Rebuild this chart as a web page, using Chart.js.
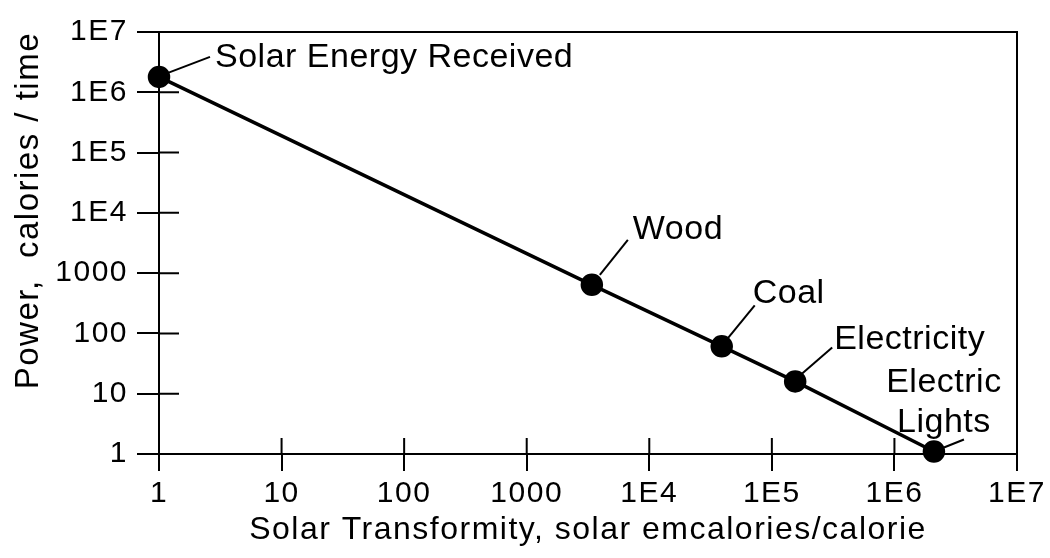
<!DOCTYPE html>
<html>
<head>
<meta charset="utf-8">
<script src="https://cdn.jsdelivr.net/npm/chart.js@4"></script>
<style>
  html, body { margin: 0; padding: 0; background: #fff; }
  #wrap { width: 1050px; height: 558px; }
</style>
</head>
<body>
<div id="wrap"><canvas id="chart" width="1050" height="558"></canvas></div>
<script>
const sources = ['Solar Energy Received', 'Wood', 'Coal', 'Electricity', 'Electric\nLights'];
const transformity = [1, 3400, 39000, 155000, 2100000];
const power = [1800000, 640, 61, 16, 1.1];
const tickValues = [1, 10, 100, 1000, 1e4, 1e5, 1e6, 1e7];
const tickLabels = ['1', '10', '100', '1000', '1E4', '1E5', '1E6', '1E7'];

// where each name sits next to its dot: leader start, leader end, text anchor, text align
const labelPlacement = [
  { from: [9, -4], to: [51, -20], text: [56, -19], align: 'left' },
  { from: [8, -10], to: [36, -45], text: [41, -55], align: 'left' },
  { from: [6, -8], to: [33, -41], text: [31, -53], align: 'left' },
  { from: [7, -8], to: [37, -34], text: [39, -42], align: 'left' },
  { from: [10, -4], to: [30, -12], text: [10, -29], align: 'center' }
];

Chart.defaults.font.family = '"Liberation Sans", Arial, sans-serif';
Chart.defaults.color = '#000';

const points = transformity.map((t, i) => ({ x: t, y: power[i] }));

// frame on top/right plus the inside halves of the tick marks
const frame = {
  id: 'frame',
  beforeDraw(chart) {
    chart.ctx.letterSpacing = '1.5px';
  },
  beforeDatasetsDraw(chart) {
    const { ctx, chartArea: a, scales } = chart;
    ctx.save();
    ctx.strokeStyle = '#000';
    ctx.lineWidth = 2;
    ctx.beginPath();
    ctx.moveTo(a.left, a.top);
    ctx.lineTo(a.right, a.top);
    ctx.lineTo(a.right, a.bottom);
    tickValues.slice(1, -1).forEach(v => {
      const x = scales.x.getPixelForValue(v);
      ctx.moveTo(x, a.bottom);
      ctx.lineTo(x, a.bottom - 16);
      const y = scales.y.getPixelForValue(v);
      ctx.moveTo(a.left, y);
      ctx.lineTo(a.left + 20, y);
    });
    ctx.stroke();
    ctx.restore();
  },
  afterDatasetsDraw(chart) {
    const { ctx } = chart;
    const meta = chart.getDatasetMeta(0);
    ctx.save();
    ctx.strokeStyle = '#000';
    ctx.fillStyle = '#000';
    ctx.lineWidth = 2;
    ctx.font = '34px "Liberation Sans", Arial, sans-serif';
    ctx.letterSpacing = '0.5px';
    ctx.textBaseline = 'middle';
    meta.data.forEach((pt, i) => {
      const p = labelPlacement[i];
      ctx.beginPath();
      ctx.moveTo(pt.x + p.from[0], pt.y + p.from[1]);
      ctx.lineTo(pt.x + p.to[0], pt.y + p.to[1]);
      ctx.stroke();
      ctx.textAlign = p.align;
      const lines = sources[i].split('\n');
      lines.forEach((line, k) => {
        const dy = (k - (lines.length - 1)) * 40;
        ctx.fillText(line, pt.x + p.text[0], pt.y + p.text[1] + dy);
      });
    });
    ctx.restore();
  }
};

const decadeTicks = scale => {
  scale.ticks = tickValues.map(v => ({ value: v }));
};

new Chart(document.getElementById('chart'), {
  type: 'scatter',
  data: {
    datasets: [{
      data: points,
      showLine: true,
      borderColor: '#000',
      borderWidth: 3.5,
      pointRadius: 9.5,
      pointBackgroundColor: '#000',
      pointBorderColor: '#000',
      clip: false
    }]
  },
  options: {
    responsive: false,
    animation: false,
    layout: { padding: { top: 32, right: 33, left: 0, bottom: 0 } },
    plugins: { legend: { display: false }, tooltip: { enabled: false } },
    scales: {
      x: {
        type: 'logarithmic',
        min: 1,
        max: 1e7,
        afterBuildTicks: decadeTicks,
        afterFit: s => { s.height = 104; },
        border: { display: true, color: '#000', width: 2 },
        grid: { drawOnChartArea: false, drawTicks: true, tickLength: 17, color: '#000', lineWidth: 2 },
        ticks: {
          font: { size: 30 },
          padding: 5,
          maxRotation: 0,
          autoSkip: false,
          callback: v => tickLabels[tickValues.indexOf(v)]
        },
        title: {
          display: true,
          text: 'Solar Transformity, solar emcalories/calorie',
          font: { size: 32 },
          padding: { bottom: 9 }
        }
      },
      y: {
        type: 'logarithmic',
        min: 1,
        max: 1e7,
        afterBuildTicks: decadeTicks,
        afterFit: s => { s.width = 159; },
        border: { display: true, color: '#000', width: 2 },
        grid: { drawOnChartArea: false, drawTicks: true, tickLength: 22, color: '#000', lineWidth: 2 },
        ticks: {
          font: { size: 30 },
          padding: 9,
          autoSkip: false,
          callback: v => tickLabels[tickValues.indexOf(v)]
        },
        title: {
          display: true,
          text: 'Power,  calories / time',
          font: { size: 33 },
          align: 'end',
          padding: { top: 9 }
        }
      }
    }
  },
  plugins: [frame]
});
</script>
</body>
</html>
